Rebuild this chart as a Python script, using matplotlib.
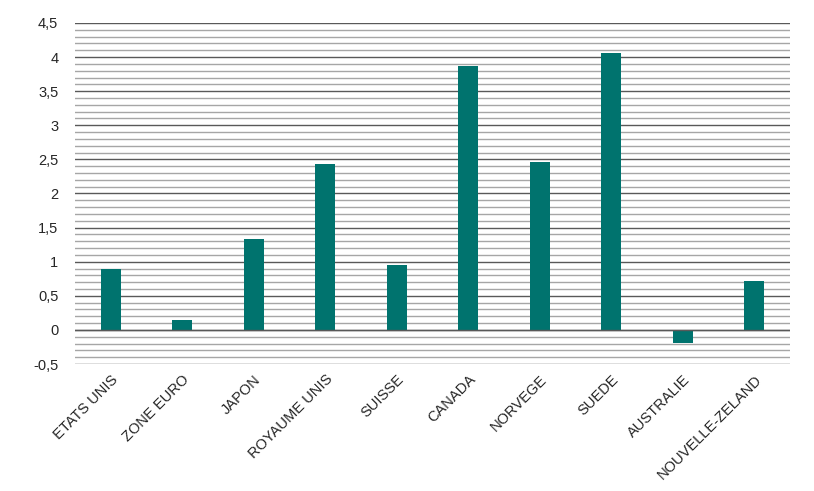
import numpy as np
import matplotlib
matplotlib.use("Agg")
import matplotlib.pyplot as plt
from matplotlib.ticker import MultipleLocator, FuncFormatter

pays = ['ETATS UNIS', 'ZONE EURO', 'JAPON', 'ROYAUME UNIS', 'SUISSE',
        'CANADA', 'NORVEGE', 'SUEDE', 'AUSTRALIE', 'NOUVELLE-ZELAND']
valeurs = [0.89, 0.15, 1.33, 2.43, 0.95, 3.87, 2.46, 4.06, -0.19, 0.72]

plt.rcParams['font.family'] = ['Liberation Sans', 'DejaVu Sans']

fig = plt.figure(figsize=(8.14, 4.91), dpi=100)
ax = fig.add_axes([75 / 814, 1 - 364 / 491, 715 / 814, 341 / 491])

x = np.arange(len(pays))
ax.bar(x, valeurs, width=0.28, color='#00736e', zorder=3)

ax.set_xlim(-0.5, len(pays) - 0.5)
ax.set_ylim(-0.5, 4.5)
ax.yaxis.set_major_locator(MultipleLocator(0.5))
ax.yaxis.set_minor_locator(MultipleLocator(0.1))
ax.yaxis.set_major_formatter(FuncFormatter(lambda v, p: ('%g' % v).replace('.', ',')))
ax.grid(axis='y', which='major', color='#595959', linewidth=1, zorder=0)
ax.grid(axis='y', which='minor', color='#a6a6a6', linewidth=1, zorder=0)
ax.axhline(0, color='#595959', linewidth=1, zorder=4)

for s in ax.spines.values():
    s.set_visible(False)
ax.tick_params(axis='y', which='both', length=0, labelsize=10.5, colors='#262626', pad=12)
ax.tick_params(axis='x', length=0, labelsize=10.5, colors='#262626', pad=6)
ax.set_xticks(x)
ax.set_xticklabels(pays, rotation=45, ha='right', rotation_mode='anchor')

fig.savefig('out.png', dpi=100)
